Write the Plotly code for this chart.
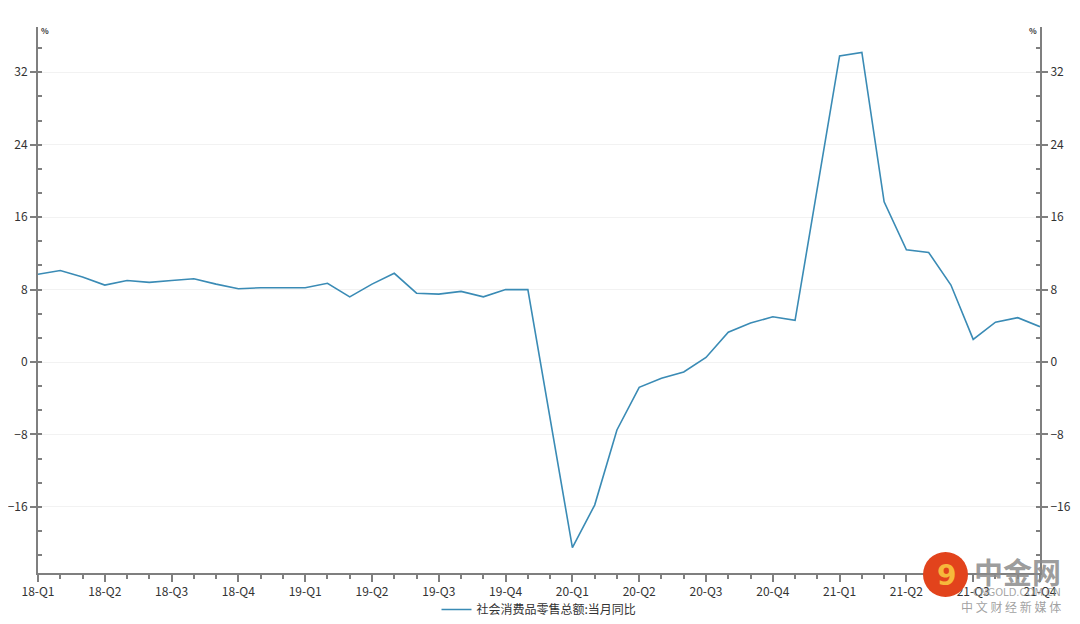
import plotly.graph_objects as go

# Monthly data (Jan merged with Feb, so January is absent)
dates = [
    "2018-02", "2018-03", "2018-04", "2018-05", "2018-06", "2018-07", "2018-08", "2018-09", "2018-10", "2018-11", "2018-12",
    "2019-02", "2019-03", "2019-04", "2019-05", "2019-06", "2019-07", "2019-08", "2019-09", "2019-10", "2019-11", "2019-12",
    "2020-02", "2020-03", "2020-04", "2020-05", "2020-06", "2020-07", "2020-08", "2020-09", "2020-10", "2020-11", "2020-12",
    "2021-02", "2021-03", "2021-04", "2021-05", "2021-06", "2021-07", "2021-08", "2021-09", "2021-10", "2021-11",
]
values = [
    9.7, 10.1, 9.4, 8.5, 9.0, 8.8, 9.0, 9.2, 8.6, 8.1, 8.2,
    8.2, 8.7, 7.2, 8.6, 9.8, 7.6, 7.5, 7.8, 7.2, 8.0, 8.0,
    -20.5, -15.8, -7.5, -2.8, -1.8, -1.1, 0.5, 3.3, 4.3, 5.0, 4.6,
    33.8, 34.2, 17.7, 12.4, 12.1, 8.5, 2.5, 4.4, 4.9, 3.9,
]
tick_labels = [
    "18-Q1", "18-Q2", "18-Q3", "18-Q4",
    "19-Q1", "19-Q2", "19-Q3", "19-Q4",
    "20-Q1", "20-Q2", "20-Q3", "20-Q4",
    "21-Q1", "21-Q2", "21-Q3", "21-Q4",
]
series_name = "社会消费品零售总额:当月同比"
y_ticks = [-16, -8, 0, 8, 16, 24, 32]

# month index relative to Feb 2018
def month_index(s):
    y, m = s.split("-")
    return (int(y) - 2018) * 12 + int(m) - 2

x = [month_index(d) for d in dates]
tick_vals = [i * 3 for i in range(len(tick_labels))]

FONT = "Noto Sans CJK SC, Noto Sans, sans-serif"
LINE_COLOR = "#3a8bb5"
AXIS_COLOR = "#7f7f7f"

OFF = 8  # page body margin
W, H = 1080 - 2 * OFF, 624 - 2 * OFF
L, R, T, B = 38 - OFF, 1040 - OFF, 27 - OFF, 573 - OFF
PW, PH = R - L, B - T

def px(xp):  # reference screen pixel -> paper
    return (xp - OFF - L) / PW

def py(yp):
    return (B - (yp - OFF)) / PH

fig = go.Figure()
fig.add_trace(go.Scatter(x=x, y=values, mode="lines", name=series_name,
                         line=dict(color=LINE_COLOR, width=1.6)))
fig.add_trace(go.Scatter(x=x, y=values, mode="lines", yaxis="y2", showlegend=False,
                         hoverinfo="skip", line=dict(color="rgba(0,0,0,0)", width=0)))

yrange = [-23.3, 37.0]
common_y = dict(
    range=yrange, tickvals=y_ticks, ticks="outside", ticklen=6, tickwidth=1.5,
    tickcolor=AXIS_COLOR, showline=True, linecolor=AXIS_COLOR, linewidth=2,
    tickfont=dict(family=FONT, size=12, color="#333333"), zeroline=False, automargin=False,
    minor=dict(dtick=8 / 3, tick0=0, ticks="inside", ticklen=4, tickcolor=AXIS_COLOR,
               tickwidth=1.5, showgrid=False),
)

fig.update_layout(
    width=W, height=H,
    margin=dict(l=L, r=W - R, t=T, b=H - B, autoexpand=False),
    paper_bgcolor="white", plot_bgcolor="white",
    font=dict(family=FONT, size=12, color="#333333"),
    xaxis=dict(
        range=[0, 45], tickvals=tick_vals, ticktext=tick_labels, ticks="outside",
        ticklen=7, tickwidth=1.5, tickcolor=AXIS_COLOR, showline=True,
        linecolor=AXIS_COLOR, linewidth=2, showgrid=False, zeroline=False, automargin=False,
        tickfont=dict(family=FONT, size=12, color="#333333"),
        minor=dict(dtick=1, tick0=0, ticks="outside", ticklen=4, tickcolor=AXIS_COLOR,
                   tickwidth=1.5, showgrid=False),
    ),
    yaxis=dict(**common_y, side="left", showgrid=True, gridcolor="#f2f2f2", gridwidth=1),
    yaxis2=dict(**common_y, side="right", overlaying="y", matches="y", showgrid=False),
    legend=dict(orientation="h", x=0.5, xanchor="center", y=py(595), yanchor="top",
                font=dict(family=FONT, size=12, color="#333333"), bgcolor="rgba(0,0,0,0)"),
    showlegend=True,
)

# "%" unit labels at axis tops
fig.add_annotation(text="<b>%</b>", x=px(39), xref="paper", y=py(23), yref="paper", xanchor="left",
                   yanchor="top", showarrow=False, font=dict(size=8, color="#333333", family=FONT))
fig.add_annotation(text="<b>%</b>", x=px(1039), xref="paper", y=py(23), yref="paper", xanchor="right",
                   yanchor="top", showarrow=False, font=dict(size=8, color="#333333", family=FONT))

# watermark
fig.add_shape(type="circle", xref="paper", yref="paper", x0=px(923), x1=px(968),
              y0=py(597), y1=py(552), fillcolor="#e2431c", line=dict(width=0), layer="above")
fig.add_annotation(text="<b>9</b>", x=px(946), xref="paper", y=py(575), yref="paper",
                   showarrow=False, font=dict(size=28, color="#f6b93b", family="DejaVu Sans"),
                   xanchor="center", yanchor="middle")
fig.add_annotation(text="<b>中金网</b>", x=px(972), xref="paper", y=py(571), yref="paper",
                   showarrow=False, xanchor="left", yanchor="middle",
                   font=dict(size=29, color="rgba(140,140,140,0.85)", family=FONT))
fig.add_annotation(text="CNGOLD.COM.CN", x=px(1063), xref="paper", y=py(592), yref="paper",
                   showarrow=False, xanchor="right", yanchor="middle",
                   font=dict(size=10, color="rgba(150,150,150,0.85)", family="DejaVu Sans"))
fig.add_annotation(text="中 文 财 经 新 媒 体", x=px(1063), xref="paper", y=py(606), yref="paper",
                   showarrow=False, xanchor="right", yanchor="middle",
                   font=dict(size=12, color="rgba(150,150,150,0.9)", family=FONT))

fig.write_html("out.html")
